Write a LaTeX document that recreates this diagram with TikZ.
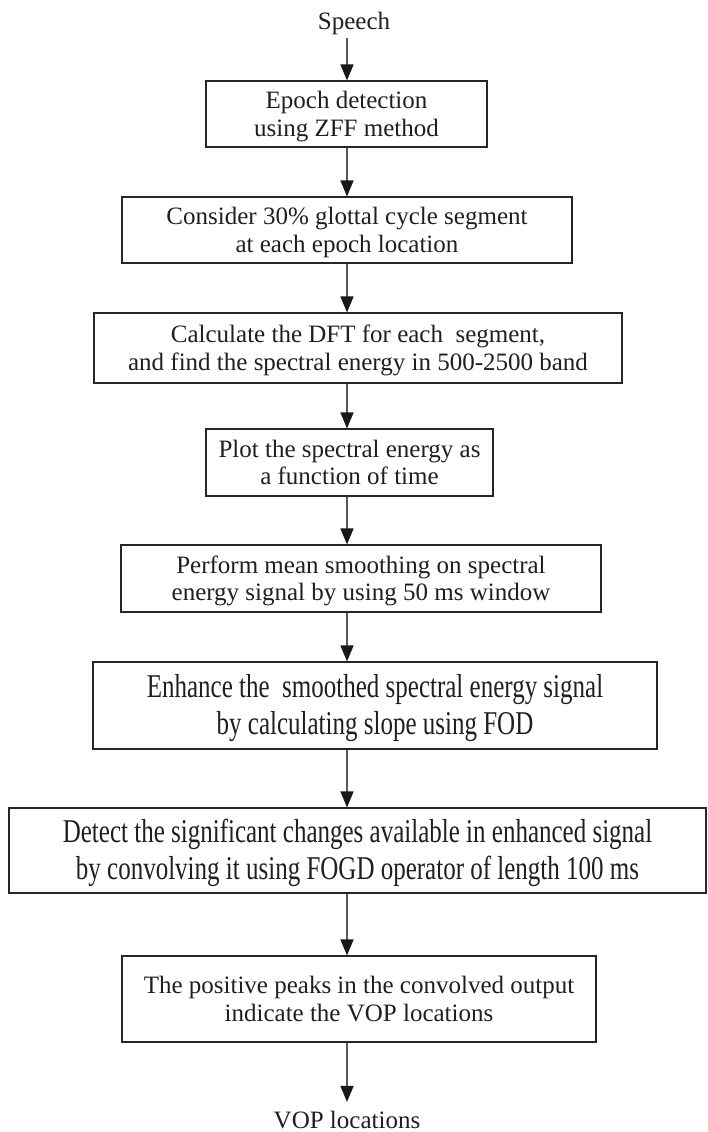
\documentclass[tikz,border=0pt]{standalone}
\usepackage{fontspec}
\usepackage{graphicx}
\setmainfont{Liberation Serif}
\usetikzlibrary{arrows.meta}

\tikzset{
  stepbox/.style={draw=black!85, line width=1.1pt, rectangle, inner sep=0pt,
    align=center, text=black!88, font={\fontsize{25}{27.5}\selectfont}},
  label/.style={inner sep=0pt, text=black!88, font={\fontsize{25}{27.5}\selectfont}},
  flow/.style={draw=black!65, line width=1.3pt,
    -{Triangle[length=16pt,width=13pt,fill=black!90,color=black!90]}},
}
% centred lines of a step, set slightly below the middle of their box
\newcommand{\steptext}[1]{\raisebox{-3pt}[\height][\depth]{\begin{tabular}{@{}c@{}}#1\end{tabular}}}
% the same, drawn with taller, narrower letters
\newcommand{\tallrows}[1]{\raisebox{-3pt}[\height][\depth]{\scalebox{1}[1.33]{\begin{tabular}{@{}c@{}}#1\end{tabular}}}}

\begin{document}
\begin{tikzpicture}[x=1pt, y=-1pt]
\useasboundingbox (0,0) rectangle (707,1132);

% vertical line along which every connector runs
\coordinate (ax) at (347,0);

\node[label] (speech) at (354,23) {Speech};

\node[stepbox, minimum width=281pt, minimum height=66pt] (b1) at (346.5,114)
  {\steptext{Epoch detection\\using ZFF method}};
\node[stepbox, minimum width=450pt, minimum height=66pt] (b2) at (347,230)
  {\steptext{Consider 30\% glottal cycle segment\\at each epoch location}};
\node[stepbox, minimum width=528pt, minimum height=70pt] (b3) at (358,348)
  {\steptext{Calculate the DFT for each\ \ segment,\\and find the spectral energy in 500-2500 band}};
\node[stepbox, minimum width=287pt, minimum height=67pt] (b4) at (349.5,462.5)
  {\steptext{Plot the spectral energy as\\a function of time}};
\node[stepbox, minimum width=480pt, minimum height=67pt] (b5) at (361,578.5)
  {\steptext{Perform mean smoothing on spectral\\energy signal by using 50 ms window}};
\node[stepbox, minimum width=564pt, minimum height=87pt] (b6) at (375,705.5)
  {\tallrows{Enhance the\ \ smoothed spectral energy signal\\by calculating slope using FOD}};
\node[stepbox, minimum width=697pt, minimum height=85pt] (b7) at (357.5,850.5)
  {\tallrows{Detect the significant changes available in enhanced signal\\by convolving it using FOGD operator of length 100 ms}};
\node[stepbox, minimum width=474pt, minimum height=86pt] (b8) at (359,999)
  {\steptext{The positive peaks in the convolved output\\indicate the VOP locations}};

\node[label] (vop) at (347,1120) {VOP locations};

\draw[flow] (speech.south -| ax) ++(0,3) -- (b1.north -| ax);
\draw[flow] (b1.south -| ax) -- (b2.north -| ax);
\draw[flow] (b2.south -| ax) -- (b3.north -| ax);
\draw[flow] (b3.south -| ax) -- (b4.north -| ax);
\draw[flow] (b4.south -| ax) -- (b5.north -| ax);
\draw[flow] (b5.south -| ax) -- (b6.north -| ax);
\draw[flow] (b6.south -| ax) -- (b7.north -| ax);
\draw[flow] (b7.south -| ax) -- (b8.north -| ax);
\draw[flow] (b8.south -| ax) -- ([yshift=9pt]vop.north -| ax);
\end{tikzpicture}
\end{document}
